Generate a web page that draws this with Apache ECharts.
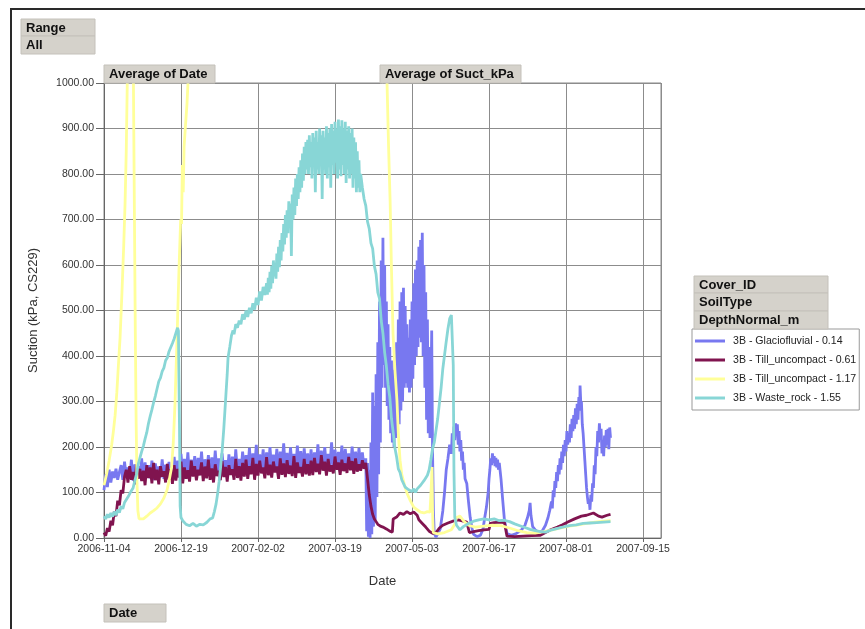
<!DOCTYPE html>
<html>
<head>
<meta charset="utf-8">
<script src="https://cdn.jsdelivr.net/npm/echarts@6/dist/echarts.min.js"></script>
<style>
html,body{margin:0;padding:0;background:#fff;}
#chart{width:865px;height:629px;}
</style>
</head>
<body>
<div id="chart"></div>
<script>
// ---- data: [days since 2006-11-04, suction kPa] ----
const startDate = Date.UTC(2006, 10, 4);
const seriesNames = [
  '3B - Glaciofluvial - 0.14',
  '3B - Till_uncompact - 0.61',
  '3B - Till_uncompact - 1.17',
  '3B - Waste_rock - 1.55'
];
const seriesColors = ['#7878F0', '#80144F', '#FFFF99', '#88D6D6'];
const yTicks = [0, 100, 200, 300, 400, 500, 600, 700, 800, 900, 1000];

const glaciofluvial014 = [
[0,105],[1,140],[2,112],[3,150],[4,122],[5,146],[6,132],[7,152],[8,128],[9,145],
[10,160],[11,128],[12,168],[13,135],[14,155],[15,130],[16,172],[17,126],[18,162],[19,138],[20,158],[21,132],[22,175],[23,129],[24,166],[25,136],[26,160],[27,131],[28,170],[29,127],[30,164],[31,140],[32,157],[33,133],[34,173],[35,130],[36,161],[37,137],[38,167],[39,134],[40,159],
[41,178],[42,140],[43,170],[44,136],[45,185],[46,142],[47,174],[48,138],[49,188],[50,135],[51,172],[52,145],[53,180],[54,139],[55,176],[56,143],[57,190],[58,137],[59,173],[60,146],[61,182],[62,141],[63,177],[64,138],[65,192],[66,144],[67,175],[68,140],[69,186],[70,147],[71,171],[72,139],[73,184],[74,143],[75,179],[76,136],[77,195],[78,145],[79,174],[80,142],
[81,190],[82,148],[83,182],[84,150],[85,198],[86,145],[87,186],[88,152],[89,205],[90,147],[91,184],[92,150],[93,195],[94,146],[95,188],[96,153],[97,200],[98,149],[99,183],[100,151],[101,196],[102,147],[103,190],[104,155],[105,208],[106,150],[107,187],[108,148],[109,199],[110,152],[111,185],[112,149],[113,203],[114,154],[115,191],[116,146],[117,197],[118,151],[119,186],[120,150],
[121,195],[122,152],[123,188],[124,155],[125,206],[126,150],[127,192],[128,157],[129,200],[130,153],[131,185],[132,158],[133,210],[134,151],[135,194],[136,156],[137,189],[138,154],[139,203],[140,149],[141,196],[142,157],[143,186],[144,152],[145,201],[146,155],[147,190],[148,150],[149,198],[150,156],[151,188],[152,153],
[153,175],[153.5,15],[154,165],[154.5,3],[155,150],[155.5,0],[156,210],[156.5,8],[157,320],[157.5,25],[158,290],[158.5,40],[159,360],[159.5,90],[160,430],[160.5,140],[161,520],[161.5,210],[162,610],[162.5,330],[163,660],[163.5,380],
[164,600],[164.5,330],[165,520],[165.5,290],[166,470],[166.5,260],[167,420],[167.5,230],[168,390],[168.5,210],[169,370],[169.5,200],[170,400],[170.5,220],[171,430],[171.5,230],[172,480],[172.5,250],[173,520],[173.5,280],[174,540],[174.5,300],[175,550],[175.5,330],[176,510],[176.5,340],[177,470],[177.5,330],[178,440],[178.5,320],[179,480],[179.5,330],[180,520],[180.5,350],[181,560],[181.5,380],[182,590],[182.5,400],[183,610],[183.5,420],[184,640],[184.5,440],[185,655],[185.5,430],[186,671],[186.5,400],[187,600],[187.5,330],[188,540],[188.5,260],[189,480],[189.5,230],[190,420],[190.5,220],[191,300],[191.5,456],[192,190],[192.5,60],[193,10],
[194,2],[195,5],[196.5,20],[198,60],[199,100],[200,150],[201,175],[202,205],[203,185],[203.5,230],[204,200],[204.5,245],[205,215],[205.5,252],[206,225],[206.5,250],[207,205],[207.5,235],[208,190],[208.5,215],[209,170],[209.5,190],[210,150],[210.5,165],[211,130],[212,120],[213,80],[214,45],[215,22],[216,8],[218,3],[220,6],
[221.5,20],[222.5,45],[223.5,68],[224.5,100],[225,130],[225.5,150],[226,175],[226.5,160],[227,186],[227.5,165],[228,180],[228.5,158],[229,176],[229.5,155],[230,172],[230.5,150],[231,165],[232,130],[233,83],[234,40],[235.5,10],[238,6],[241,10],[244,18],[246,28],[247.5,45],[248.5,60],[249,77],[249.5,50],[250.5,25],[252,18],[254,12],[256,15],[258,28],[259.5,45],
[260.5,61],[261.5,80],[262,65],[262.5,105],[263,90],[263.5,125],[264,110],[264.5,145],[265,125],[265.5,160],[266,140],[266.5,175],[267,150],[267.5,190],[268,165],[268.5,205],[269,180],[269.5,215],[270,190],[270.5,235],[271,205],[271.5,230],[272,210],[272.5,250],[273,220],[273.5,262],[274,235],[274.5,270],[275,240],[275.5,285],[276,250],[276.5,295],[277,260],[277.5,310],[278,280],[278.2,335],[278.7,290],[279,300],[279.5,250],[280,230],[280.5,200],[281,170],[281.5,140],[282,110],[282.5,90],[283,75],[283.5,85],[284,62],[284.5,95],[285,80],[285.5,120],[286,110],[286.5,160],[287,140],[287.5,200],[288,180],[288.5,235],[289,210],[289.5,252],[290,220],[290.5,240],[291,186],[291.5,210],[292,180],[292.5,225],[293,200],[293.5,237],[294,205],[294.5,240],[295,195],[295.5,243],[296,220]
];

const tillUncompact061 = [
[0,12],[1,5],[2,22],[3,14],[4,38],[5,28],[6,58],[7,48],[8,82],[9,72],[10,105],[11,98],[12,135],
[13,150],[14,122],[15,158],[16,128],[17,145],[18,118],[19,162],[20,130],[21,152],[22,125],[23,148],[24,116],[25,160],[26,132],[27,155],[28,120],[29,165],[30,127],[31,150],[32,118],[33,158],[34,135],[35,147],[36,122],[37,163],[38,128],[39,151],[40,119],
[41,160],[42,126],[43,152],[44,133],[45,168],[46,120],[47,155],[48,130],[49,149],[50,124],[51,170],[52,135],[53,158],[54,127],[55,150],[56,138],[57,166],[58,125],[59,157],[60,131],[61,172],[62,128],[63,153],[64,122],[65,162],[66,136],[67,148],[68,127],[69,169],[70,134],[71,156],[72,124],[73,160],[74,139],[75,151],[76,128],[77,174],[78,132],[79,158],[80,126],
[81,165],[82,135],[83,172],[84,130],[85,158],[86,140],[87,176],[88,128],[89,163],[90,137],[91,170],[92,142],[93,155],[94,131],[95,178],[96,138],[97,161],[98,133],[99,168],[100,144],[101,157],[102,130],[103,175],[104,139],[105,164],[106,134],[107,171],[108,141],[109,159],[110,136],[111,180],[112,132],[113,166],[114,143],[115,156],[116,135],[117,174],[118,140],[119,162],[120,137],
[121,170],[122,138],[123,176],[124,145],[125,163],[126,140],[127,182],[128,148],[129,168],[130,137],[131,174],[132,146],[133,160],[134,142],[135,179],[136,150],[137,166],[138,139],[139,172],[140,147],[141,164],[142,143],[143,178],[144,149],[145,169],[146,141],[147,175],[148,146],[149,162],[150,148],[151,171],[152,152],[153,165],
[154,130],[155,95],[156,70],[157,52],[158,42],[159,36],[160,30],[161.5,26],[163,24],[165,20],[167,15],[168.5,13],[169,42],[171,46],[173,55],[175,52],[177,58],[179,53],[181,57],[183,50],[184,40],[186,32],[188,24],[190,15],[192.3,10],[194,12],[196,22],[198,28],[201,33],[204,37],[207,40],[210,37],[212,35],[213.5,12],[216,14],[219,16],[222,18],[225,19],[225.8,32],[228,34],[231,35],[234,34],[235.5,4],[240,3],[245,4],[250,5],[255,6],[258,12],[261,18],[265,24],[268,29],[271,35],[275,42],[279,48],[282,50],[286,55],[289,48],[291,46],[294,50],[296,52]
];

const tillUncompact117 = [
[0,116],[1.5,140],[3,170],[4.5,205],[5.5,235],[6.5,270],[7.5,320],[8.5,385],[9.4,441],[10.5,540],[11.5,640],[12.3,734],[13,850],[13.6,1000],[14.5,1300],[15.5,1400],[16.5,1250],[17.2,1000],[17.8,700],[18.3,450],[18.8,250],[19.3,120],[19.8,60],[20.5,42],[21.5,38],[23,42],[25,48],[27,55],[29,60],[31,66],[33,75],[35,88],[36.8,105],[38,125],[39.5,155],[40.5,210],[41.5,296],[42.7,441],[43.8,588],[44.8,700],[45.3,690],[45.8,820],[46.3,760],[46.8,860],[47.5,900],[48.5,954],[49.2,1010],[50,1200],[60,1800],[100,2500],[150,2200],[163,1500],[164.5,1100],[165.4,1000],[166.3,860],[167.2,741],[168,590],[168.9,449],[170,370],[171.2,302],[172,230],[173,171],[174,140],[175.5,118],[177,99],[179,82],[181,68],[183,62],[185,57],[187,55],[189,58],[190.5,57],[191.2,110],[191.7,156],[192,60],[192.4,12],[195,9],[199,12],[203,18],[205,30],[206,45],[208,48],[210,38],[213,28],[217,24],[222,26],[227,28],[232,27],[237,22],[242,16],[247,12],[252,11],[257,14],[262,18],[267,22],[272,26],[277,29],[282,32],[287,35],[292,37],[296,38]
];

const wasteRock155 = [
[0,48],[1,42],[2,52],[3,45],[4,55],[5,47],[6,58],[7,50],[8,62],[9,56],[10,70],[11,64],[12,78],[13,74],[14,90],[15,86],[16,104],[17,110],[18,126],[19,140],[20,162],[21,176],[22,190],[23,202],[24,218],[25,232],[26,252],[27,268],[28,282],[29,298],[30,312],[31,328],[32,344],[33,352],[34,366],[35,374],[36,390],[37,396],[38,410],[39,414],[40,428],[41,438],[42,450],[43,462],[43.5,455],[44.1,250],[44.5,70],[45,45],[46,38],[47,34],[48,30],[50,27],[52,32],[54,26],[56,30],[58,29],[60,34],[62,42],[63.5,44],[64.5,58],[65.5,75],[66.5,100],[67.3,125],[68,150],[69,190],[70,240],[71,300],[72,360],[72.5,397],[73.5,420],[74.5,445],[75.4,456],[76,448],[77,470],[78,462],[79,478],[80,470],[81,492],[82,480],[83,500],[84,486],[85,506],[86,494],[87,516],[88,502],[89,528],[90,512],[91,542],[92,522],[93,552],[94,534],
[95,560],[95.5,535],[96,572],[96.5,540],[97,585],[97.5,548],[98,598],[98.5,560],[99,610],[99.5,575],[100,605],[100.5,570],[101,625],[101.5,585],[102,640],[102.5,595],[103,655],[103.5,610],[104,670],[104.5,630],[105,690],[105.5,645],[106,710],[106.5,660],[107,720],[107.5,670],[108,740],[108.5,690],[109,735],[109.5,620],[110,755],[110.5,700],[111,770],[111.5,710],[112,790],[112.5,730],[113,800],[113.5,745],[114,815],[114.5,760],[115,830],[115.5,770],[116,845],[116.5,785],[117,860],[117.5,800],[118,870],[118.5,810],[119,875],[119.5,800],[120,885],[120.5,815],[121,870],[121.5,790],[122,890],[122.5,820],[123,880],[123.5,760],[124,895],[124.5,810],[125,870],[125.5,800],[126,900],[126.5,825],[127,885],[127.5,745],[128,895],[128.5,810],[129,880],[129.5,800],[130,905],[130.5,790],[131,890],[131.5,815],[132,900],[132.5,770],[133,910],[133.5,820],[134,895],[134.5,800],[135,915],[135.5,825],[136,900],[136.5,790],[137,920],[137.5,810],[138,905],[138.5,795],[139,918],[139.5,820],[140,900],[140.5,800],[141,915],[141.5,780],[142,895],[142.5,810],[143,905],[143.5,790],[144,890],[144.5,800],[145,900],[145.5,770],[146,880],[146.5,790],[147,870],[147.5,760],[148,850],[148.5,770],[149,830],[149.5,760],[150,800],
[151,770],[152,745],[153,730],[154,695],[155,680],[156,648],[157,636],[158,598],[159,580],[160,540],[161,526],[162,478],[163,450],[164,408],[165,378],[166,338],[167,310],[168,262],[169,232],[170,198],[171,178],[172,152],[173,144],[174,128],[175,124],[176,112],[177,114],[178,106],[179,110],[180,102],[181,108],[182,100],[183,108],[184,104],[185,116],[186,112],[187,126],[188,124],[189,138],[190,150],[191,172],[192,196],[193,210],[194,236],[195,262],[196,296],[197,330],[198,372],[199,402],[200,432],[201,460],[202,482],[203,490],[203.6,493],[204.1,380],[204.5,150],[205,45],[206,28],[208,18],[210,25],[213,32],[216,37],[219,40],[222,42],[225,40],[228,42],[231,38],[234,39],[237,36],[240,31],[243,27],[246,23],[249,19],[252,16],[255,14],[258,13],[261,17],[264,20],[268,24],[272,27],[276,29],[280,32],[284,33],[288,34],[292,35],[296,36]
];

const seriesData = [glaciofluvial014, tillUncompact061, tillUncompact117, wasteRock155];

function fmtDate(v) {
  const d = new Date(startDate + Math.round(v) * 86400000);
  const p = n => (n < 10 ? '0' : '') + n;
  return d.getUTCFullYear() + '-' + p(d.getUTCMonth() + 1) + '-' + p(d.getUTCDate());
}

const FONT = '"Liberation Sans", Arial, sans-serif';
const chart = echarts.init(document.getElementById('chart'), null, {renderer: 'canvas'});

function button(x, y, w, h, label) {
  return [
    {type: 'rect', shape: {x: x, y: y, width: w, height: h},
     style: {fill: '#D5D2CB', stroke: '#C4C1BA', lineWidth: 1}, z: 100},
    {type: 'text', x: x + 5, y: y + h / 2 + 0.5,
     style: {text: label, font: 'bold 13px ' + FONT, fill: '#111', verticalAlign: 'middle'}, z: 101}
  ];
}

const graphics = [].concat(
  [{type: 'line', shape: {x1: 10, y1: 9, x2: 865, y2: 9}, style: {stroke: '#2a2a2a', lineWidth: 2}, z: 100},
   {type: 'line', shape: {x1: 11, y1: 9, x2: 11, y2: 629}, style: {stroke: '#2a2a2a', lineWidth: 2}, z: 100}],
  button(21, 19, 74, 17, 'Range'),
  button(21, 36, 74, 18, 'All'),
  button(104, 65, 111, 18, 'Average of Date'),
  button(380, 65, 141, 18, 'Average of Suct_kPa'),
  button(694, 276, 134, 17, 'Cover_ID'),
  button(694, 293, 134, 18, 'SoilType'),
  button(694, 311, 134, 18, 'DepthNormal_m'),
  button(104, 604, 62, 18, 'Date')
);

const option = {
  animation: false,
  backgroundColor: '#ffffff',
  textStyle: {fontFamily: FONT},
  grid: {left: 104, top: 83, right: 204, bottom: 91, show: true, borderColor: '#888', borderWidth: 1, backgroundColor: 'transparent'},
  legend: {
    data: seriesNames,
    orient: 'vertical',
    left: 692, top: 329,
    icon: 'rect',
    itemWidth: 30, itemHeight: 3, itemGap: 7,
    padding: [6, 3, 6, 3],
    backgroundColor: '#fff',
    borderColor: '#999', borderWidth: 1,
    textStyle: {fontSize: 10.6, color: '#222', fontFamily: FONT, lineHeight: 12, padding: [0, 0, 0, 3]},
    selectedMode: false
  },
  xAxis: {
    type: 'value', min: 0, max: 325.5, interval: 45,
    name: 'Date', nameLocation: 'middle', nameGap: 37,
    nameTextStyle: {fontSize: 13, color: '#333', fontFamily: FONT},
    axisLine: {show: true, lineStyle: {color: '#666'}},
    axisTick: {show: true, length: 4, lineStyle: {color: '#666'}},
    axisLabel: {fontSize: 10.5, color: '#333', margin: 6, formatter: fmtDate, showMaxLabel: false},
    splitLine: {show: true, lineStyle: {color: '#8c8c8c', width: 1}}
  },
  yAxis: {
    type: 'value', min: yTicks[0], max: yTicks[yTicks.length - 1], interval: 100,
    name: 'Suction (kPa, CS229)', nameLocation: 'middle', nameGap: 64, nameRotate: 90,
    nameTextStyle: {fontSize: 13, color: '#333', fontFamily: FONT},
    axisLine: {show: true, lineStyle: {color: '#666'}},
    axisTick: {show: true, length: 8, lineStyle: {color: '#666'}},
    axisLabel: {fontSize: 10.5, color: '#333', margin: 10, formatter: v => v.toFixed(2)},
    splitLine: {show: true, lineStyle: {color: '#8c8c8c', width: 1}}
  },
  series: seriesNames.map((name, i) => ({
    name: name,
    type: 'line',
    data: seriesData[i],
    showSymbol: false,
    symbol: 'none',
    clip: true,
    sampling: false,
    color: seriesColors[i],
    lineStyle: {width: 2.8, color: seriesColors[i]}
  })),
  graphic: graphics
};
chart.setOption(option);
</script>
</body>
</html>
